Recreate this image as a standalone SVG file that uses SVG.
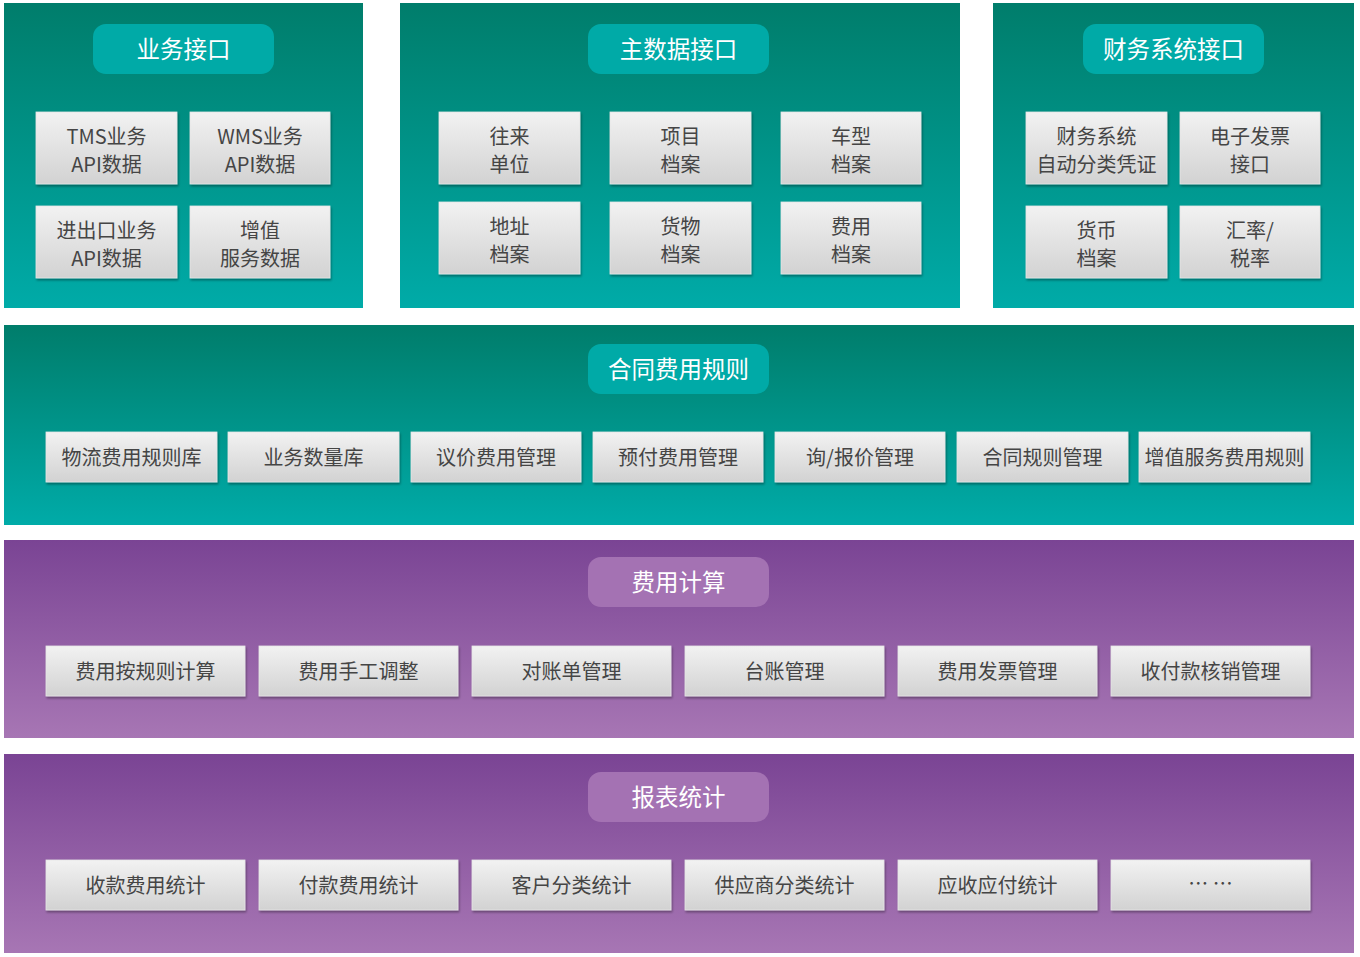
<svg xmlns="http://www.w3.org/2000/svg" width="1360" height="957" viewBox="0 0 1360 957">
<defs>
<linearGradient id="teal" x1="0" y1="0" x2="0" y2="1">
<stop offset="0" stop-color="#007D6B"/>
<stop offset="1" stop-color="#00ABA8"/>
</linearGradient>
<linearGradient id="purple" x1="0" y1="0" x2="0" y2="1">
<stop offset="0" stop-color="#7A4494"/>
<stop offset="1" stop-color="#A776B4"/>
</linearGradient>
<linearGradient id="box" x1="0" y1="0" x2="0" y2="1">
<stop offset="0" stop-color="#F2F2F2"/>
<stop offset="1" stop-color="#D2D2D2"/>
</linearGradient>
<filter id="sh" x="-10%" y="-10%" width="125%" height="135%">
<feDropShadow dx="1" dy="2" stdDeviation="1.2" flood-color="#000" flood-opacity="0.35"/>
</filter>
</defs>
<style>
.tp{fill:url(#teal)}
.pp{fill:url(#purple)}
.pillT{fill:#00AAA7}
.pillP{fill:#A472B3}
.bx{fill:url(#box);stroke:#E6E6E6;stroke-width:0.8;filter:url(#sh)}
.tt{font-family:"Noto Sans CJK SC","Noto Sans",sans-serif;font-size:23.5px;fill:#FFFFFF;text-anchor:middle}
.bt{font-family:"Noto Sans CJK SC","Noto Sans",sans-serif;font-size:20px;fill:#454545;text-anchor:middle}
</style>
<rect width="1360" height="957" fill="#FFFFFF"/>

<g id="panel-business">
<rect class="tp" x="4" y="3" width="359" height="305"/>
<rect class="pillT" x="93" y="24" width="181" height="50" rx="13"/>
<text class="tt" x="183.5" y="58">业务接口</text>
<rect class="bx" x="36" y="112" width="141" height="72"/>
<text class="bt" x="106.5" y="144">TMS业务</text><text class="bt" x="106.5" y="172">API数据</text>
<rect class="bx" x="190" y="112" width="140" height="72"/>
<text class="bt" x="260" y="144">WMS业务</text><text class="bt" x="260" y="172">API数据</text>
<rect class="bx" x="36" y="206" width="141" height="72"/>
<text class="bt" x="106.5" y="238">进出口业务</text><text class="bt" x="106.5" y="266">API数据</text>
<rect class="bx" x="190" y="206" width="140" height="72"/>
<text class="bt" x="260" y="238">增值</text><text class="bt" x="260" y="266">服务数据</text>
</g>

<g id="panel-master">
<rect class="tp" x="400" y="3" width="560" height="305"/>
<rect class="pillT" x="588" y="24" width="181" height="50" rx="13"/>
<text class="tt" x="678.5" y="58">主数据接口</text>
<rect class="bx" x="439" y="112" width="141" height="72"/>
<text class="bt" x="509.5" y="144">往来</text><text class="bt" x="509.5" y="172">单位</text>
<rect class="bx" x="610" y="112" width="141" height="72"/>
<text class="bt" x="680.5" y="144">项目</text><text class="bt" x="680.5" y="172">档案</text>
<rect class="bx" x="781" y="112" width="140" height="72"/>
<text class="bt" x="851" y="144">车型</text><text class="bt" x="851" y="172">档案</text>
<rect class="bx" x="439" y="202" width="141" height="72"/>
<text class="bt" x="509.5" y="234">地址</text><text class="bt" x="509.5" y="262">档案</text>
<rect class="bx" x="610" y="202" width="141" height="72"/>
<text class="bt" x="680.5" y="234">货物</text><text class="bt" x="680.5" y="262">档案</text>
<rect class="bx" x="781" y="202" width="140" height="72"/>
<text class="bt" x="851" y="234">费用</text><text class="bt" x="851" y="262">档案</text>
</g>

<g id="panel-finance">
<rect class="tp" x="993" y="3" width="361" height="305"/>
<rect class="pillT" x="1083" y="24" width="181" height="50" rx="13"/>
<text class="tt" x="1173.5" y="58">财务系统接口</text>
<rect class="bx" x="1026" y="112" width="141" height="72"/>
<text class="bt" x="1096.5" y="144">财务系统</text><text class="bt" x="1096.5" y="172">自动分类凭证</text>
<rect class="bx" x="1180" y="112" width="140" height="72"/>
<text class="bt" x="1250" y="144">电子发票</text><text class="bt" x="1250" y="172">接口</text>
<rect class="bx" x="1026" y="206" width="141" height="72"/>
<text class="bt" x="1096.5" y="238">货币</text><text class="bt" x="1096.5" y="266">档案</text>
<rect class="bx" x="1180" y="206" width="140" height="72"/>
<text class="bt" x="1250" y="238">汇率/</text><text class="bt" x="1250" y="266">税率</text>
</g>

<g id="panel-contract">
<rect class="tp" x="4" y="325" width="1350" height="200"/>
<rect class="pillT" x="588" y="344" width="181" height="50" rx="13"/>
<text class="tt" x="678.5" y="378">合同费用规则</text>
<rect class="bx" x="46" y="432" width="171" height="50"/><text class="bt" x="131.5" y="465">物流费用规则库</text>
<rect class="bx" x="228" y="432" width="171" height="50"/><text class="bt" x="313.5" y="465">业务数量库</text>
<rect class="bx" x="411" y="432" width="170" height="50"/><text class="bt" x="496" y="465">议价费用管理</text>
<rect class="bx" x="593" y="432" width="170" height="50"/><text class="bt" x="678" y="465">预付费用管理</text>
<rect class="bx" x="775" y="432" width="170" height="50"/><text class="bt" x="860" y="465">询/报价管理</text>
<rect class="bx" x="957" y="432" width="171" height="50"/><text class="bt" x="1042.5" y="465">合同规则管理</text>
<rect class="bx" x="1139" y="432" width="171" height="50"/><text class="bt" x="1224.5" y="465">增值服务费用规则</text>
</g>

<g id="panel-calc">
<rect class="pp" x="4" y="540" width="1350" height="198"/>
<rect class="pillP" x="588" y="557" width="181" height="50" rx="13"/>
<text class="tt" x="678.5" y="591">费用计算</text>
<rect class="bx" x="46" y="646" width="199" height="50"/><text class="bt" x="145.5" y="679">费用按规则计算</text>
<rect class="bx" x="259" y="646" width="199" height="50"/><text class="bt" x="358.5" y="679">费用手工调整</text>
<rect class="bx" x="472" y="646" width="199" height="50"/><text class="bt" x="571.5" y="679">对账单管理</text>
<rect class="bx" x="685" y="646" width="199" height="50"/><text class="bt" x="784.5" y="679">台账管理</text>
<rect class="bx" x="898" y="646" width="199" height="50"/><text class="bt" x="997.5" y="679">费用发票管理</text>
<rect class="bx" x="1111" y="646" width="199" height="50"/><text class="bt" x="1210.5" y="679">收付款核销管理</text>
</g>

<g id="panel-report">
<rect class="pp" x="4" y="754" width="1350" height="199"/>
<rect class="pillP" x="588" y="772" width="181" height="50" rx="13"/>
<text class="tt" x="678.5" y="806">报表统计</text>
<rect class="bx" x="46" y="860" width="199" height="50"/><text class="bt" x="145.5" y="893">收款费用统计</text>
<rect class="bx" x="259" y="860" width="199" height="50"/><text class="bt" x="358.5" y="893">付款费用统计</text>
<rect class="bx" x="472" y="860" width="199" height="50"/><text class="bt" x="571.5" y="893">客户分类统计</text>
<rect class="bx" x="685" y="860" width="199" height="50"/><text class="bt" x="784.5" y="893">供应商分类统计</text>
<rect class="bx" x="898" y="860" width="199" height="50"/><text class="bt" x="997.5" y="893">应收应付统计</text>
<rect class="bx" x="1111" y="860" width="199" height="50"/><text class="bt" x="1210.5" y="891">… …</text>
</g>

<g id="connectors"></g>
</svg>
